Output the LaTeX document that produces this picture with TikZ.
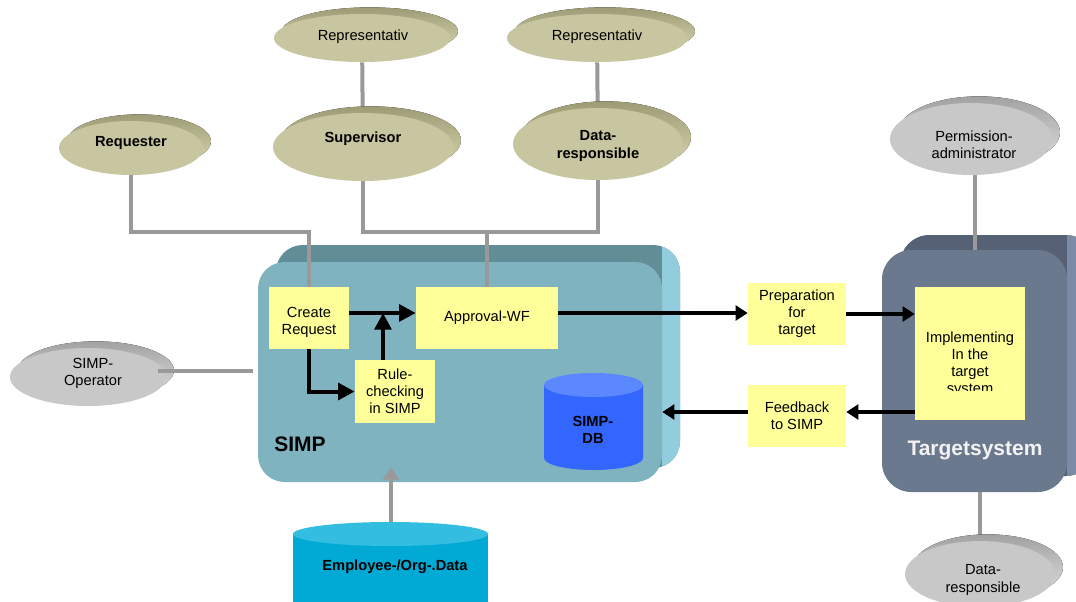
\documentclass[tikz,border=0pt]{standalone}
\usepackage{fontspec}
\setmainfont{Liberation Sans}
\usetikzlibrary{shapes.geometric,arrows.meta}
\definecolor{olfront}{HTML}{C7C6A0}
\definecolor{olback}{HTML}{9E9C76}
\definecolor{olside}{HTML}{DCDBB4}
\definecolor{grfront}{HTML}{C8C8C8}
\definecolor{grback}{HTML}{A2A2A2}
\definecolor{grside}{HTML}{E2E2E2}
\definecolor{simpfront}{HTML}{80B3C0}
\definecolor{simptop}{HTML}{618D96}
\definecolor{simpside}{HTML}{91CDDC}
\definecolor{tgfront}{HTML}{6B798E}
\definecolor{tgtop}{HTML}{566176}
\definecolor{tgside}{HTML}{7C8BA5}
\definecolor{yel}{HTML}{FFFF99}
\definecolor{dbbody}{HTML}{3366FF}
\definecolor{dbtop}{HTML}{5C88FF}
\definecolor{empbody}{HTML}{00AAD4}
\definecolor{emptopc}{HTML}{33BDE0}
\definecolor{linegray}{HTML}{999999}
\pgfdeclarelayer{boxes}
\pgfdeclarelayer{lines}
\pgfsetlayers{boxes,lines,main}
% name, x, y, rx(px), ry(px), scheme
\newcommand{\disc}[6]{%
  \fill[top color=#6back, bottom color=#6side] ([shift={(6pt,5pt)}]#2,#3) ellipse [x radius={0.75*#4pt}, y radius={0.75*#5pt}];
  \node[ellipse, fill=#6front, minimum width={1.5*#4pt}, minimum height={1.5*#5pt}] (#1) at (#2,#3) {};
}
\begin{document}
\begin{tikzpicture}[x=0.75pt,y=-0.75pt,
  every node/.style={font=\fontsize{11pt}{12.8pt}\selectfont, inner sep=0pt, align=center},
  ybox/.style={fill=yel},
  bigarr/.style={draw=black, line width=3pt, -{Triangle[length=12.5pt,width=12.5pt]}},
  arr/.style={draw=black, line width=3pt, -{Triangle[length=9pt,width=11pt]}},
  glink/.style={draw=linegray, line width=3pt},
  garr/.style={draw=linegray, line width=3pt, -{Triangle[length=9pt,width=12pt]}},
  bold/.style={font=\fontsize{11pt}{12.8pt}\selectfont\bfseries},
  big/.style={font=\fontsize{15.75pt}{18pt}\selectfont\bfseries}]
\useasboundingbox (0,0) rectangle (1076,601);
\clip (0,0) rectangle (1076,601);

% ---------- boxes ----------
\begin{pgfonlayer}{boxes}
  \fill[simptop, rounded corners=20pt] (276,245) rectangle (680,468);
  \begin{scope}
    \clip (662,240) rectangle (700,490);
    \fill[simpside, rounded corners=20pt] (276,245) rectangle (680,468);
  \end{scope}
  \node[fill=simpfront, rounded corners=20pt, minimum width=303pt, minimum height=165pt] (simp) at (460,372) {};
  \node[big, anchor=west] (simplabel) at (274,444) {SIMP};

  \fill[tgtop, rounded corners=22pt] (900,235) rectangle (1095,476);
  \begin{scope}
    \clip (1067,230) rectangle (1100,500);
    \fill[tgside, rounded corners=22pt] (900,235) rectangle (1095,476);
  \end{scope}
  \node[fill=tgfront, rounded corners=22pt, minimum width=138.75pt, minimum height=181.5pt] (target) at (974.5,371) {};
  \node[big, text=white!95!black] (tglabel) at (975,450) {Targetsystem};
\end{pgfonlayer}

% ---------- ellipses ----------
\disc{rep1}{362}{38}{88}{24}{ol}
\disc{rep2}{597}{38}{90}{24}{ol}
\disc{req}{131}{148}{72}{27}{ol}
\disc{sup}{363}{147}{90}{34}{ol}
\disc{dres}{598}{144}{85}{36}{ol}
\disc{perm}{971}{139}{81}{36}{gr}
\disc{simpop}{88}{377}{78}{29}{gr}
\disc{dresb}{980}{574}{75}{33}{gr}

\node (rep1t) at (363,37) {Representativ};
\node (rep2t) at (597,37) {Representativ};
\node[bold] (reqt) at (131,143) {Requester};
\node[bold] (supt) at (363,139) {Supervisor};
\node[bold] (drest) at (598,146) {Data-\\responsible};
\node (permt) at (974,145) {Permission-\\administrator};
\node (simpopt) at (93,373) {SIMP-\\Operator};
\node (dresbt) at (983,580) {Data-\\responsible};

% ---------- yellow boxes ----------
\node[ybox, minimum width=60pt, minimum height=46.5pt] (create) at (309,318) {};
\node (createt) at (309,322) {Create\\Request};
\node[ybox, minimum width=106.5pt, minimum height=46.5pt] (approval) at (487,318) {Approval-WF};
\node[ybox, minimum width=60pt, minimum height=47.25pt] (rule) at (395,391.5) {Rule-\\checking\\in SIMP};
\node[ybox, minimum width=73.5pt, minimum height=46.5pt] (prep) at (797,314) {Preparation\\for\\target};
\node[ybox, minimum width=73.5pt, minimum height=46.5pt] (feedback) at (797,416) {Feedback\\to SIMP};
\node[ybox, minimum width=82.5pt, minimum height=99.75pt] (impl) at (970,353.5) {};
\begin{scope}
  \clip (915,287) rectangle (1025,390);
  \node (implt) at (970,364) {Implementing\\In the\\target\\system};
\end{scope}

% ---------- databases ----------
\fill[dbbody] (544,385) -- (544,458) arc[start angle=180, end angle=360, x radius=37.125pt, y radius=9pt] -- (643,385) -- cycle;
\fill[dbtop] (593.5,385) ellipse [x radius=37.125pt, y radius=9pt];
\node[bold] (db) at (593,430) {SIMP-\\DB};

\fill[empbody] (293,534) -- (293,640) -- (488,640) -- (488,534) -- cycle;
\fill[emptopc] (390.5,534) ellipse [x radius=73.125pt, y radius=9pt];
\node[bold] (emp) at (395,567) {Employee-/Org-.Data};
\coordinate (emptop) at (391,522);

% ---------- gray connectors ----------
\coordinate (hl) at (0,231.5);
\coordinate (opend) at (253,371);
\begin{pgfonlayer}{lines}
  \draw[glink] (req) -- (req |- hl) -| (create.north);
  \draw[glink] (sup) -- (sup |- hl) -| (dres);
  \draw[glink] (approval.north) -- (approval.north |- hl);
  \draw[glink] (rep1) -- (sup);
  \draw[glink] (rep2) -- (dres);
  \draw[glink] (target.north |- perm) -- (target.north);
  \draw[glink] (target.south -| dresb) -- (dresb);
  \draw[garr] (emptop) -- ([yshift=11pt]emptop |- simp.south);
\end{pgfonlayer}
\draw[glink] ([shift={(52.5pt,4.5pt)}]simpop.center) -- (opend);

% ---------- black arrows ----------
\coordinate (j) at (383,313);
\draw[bigarr] ([yshift=3.75pt]create.east) -- ([yshift=3.75pt]approval.west);
\draw[bigarr] (rule.north -| j) -- (j);
\draw[bigarr] (create.south) |- (rule.west);
\draw[arr] ([yshift=3.75pt]approval.east) -- ([yshift=3.75pt]approval.east -| prep.west);
\draw[arr] (prep.east) -- (prep.east -| impl.west);
\draw[arr] ([yshift=3pt]impl.west |- feedback.east) -- ([yshift=3pt]feedback.east);
\draw[arr] ([yshift=3pt]feedback.west) -- ([yshift=3pt]feedback.west -| simp.east);
\end{tikzpicture}
\end{document}
